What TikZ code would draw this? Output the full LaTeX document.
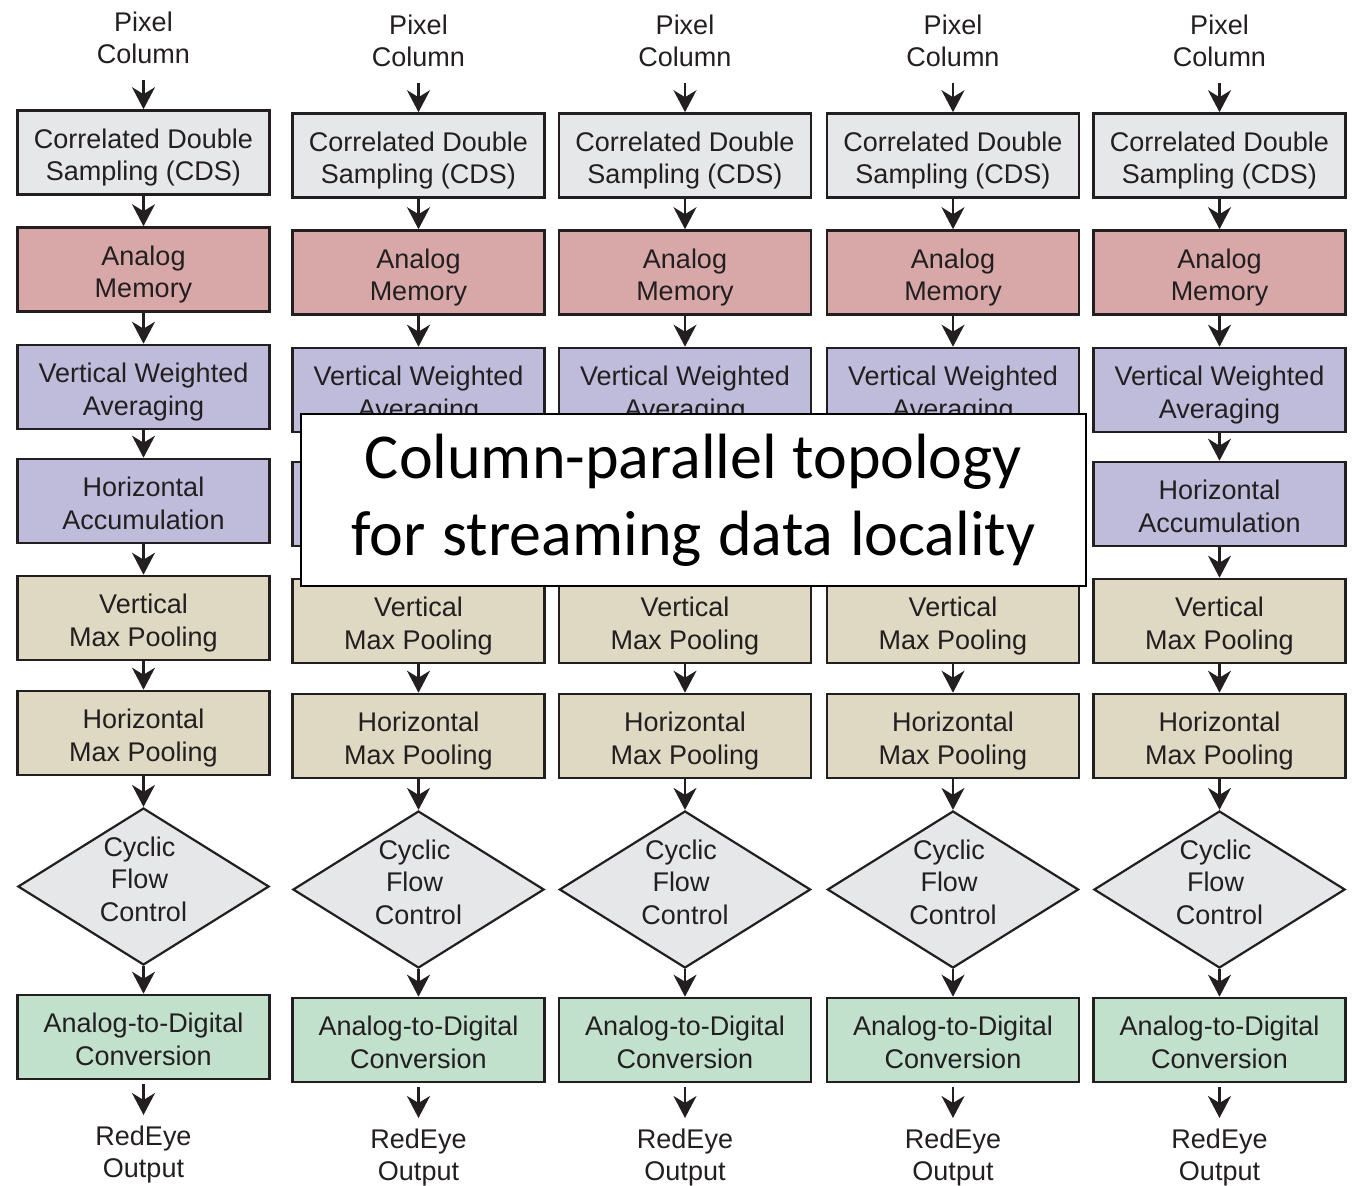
\documentclass[tikz,border=0pt]{standalone}
\usepackage{fontspec}
\setmainfont{Liberation Sans}
\newfontfamily\titlefont{Carlito}
\usetikzlibrary{arrows.meta,shapes.geometric}
\definecolor{ink}{HTML}{231F20}
\definecolor{cdsfill}{HTML}{E6E7E8}
\definecolor{memfill}{HTML}{D8A8A9}
\definecolor{avgfill}{HTML}{BFBCDB}
\definecolor{poolfill}{HTML}{DFD8C2}
\definecolor{adcfill}{HTML}{C1E1CD}
\definecolor{flowfill}{HTML}{E6E7E8}
% invisible struts that fix where the text lines sit inside a box
\newcommand\boxtop{\rule{0pt}{31.5pt}}
\newcommand\boxend{\rule[-8pt]{0pt}{8pt}}
\newcommand\diatop{\rule{0pt}{21pt}}
\newcommand\diaend{\rule[-16.6pt]{0pt}{16.6pt}}
\newcommand\padright{\rule{8pt}{0pt}}

\begin{document}
\begin{tikzpicture}[x=1pt,y=-1pt,
  txt/.style={text=ink, align=center, inner sep=0pt, font=\fontsize{27}{32.5}\selectfont},
  stage/.style={txt, draw=ink, line width=2.6pt, minimum width=252pt, minimum height=84pt},
  flow/.style={txt, draw=ink, line width=2.2pt, shape=diamond, aspect=1.6,
    minimum width=250pt, minimum height=153pt, fill=flowfill},
  feed/.style={draw=ink, line width=2.2pt, -{Stealth[length=22pt,width=23pt,inset=7pt]}},
  banner/.style={draw=black, line width=2pt, fill=white, minimum width=785pt,
    minimum height=172pt, inner sep=0pt, align=center,
    font=\titlefont\fontsize{64}{77}\selectfont}
]
\useasboundingbox (0,0) rectangle (1353,1186);
\fill[white] (0,0) rectangle (1353,1186);

\foreach \cx/\dy/\i/\shown in {143.5/-3/1/1, 418.5/0/2/0, 685/0/3/0, 953/0/4/0, 1219.5/0/5/1}{
  \begin{scope}[shift={(\cx,\dy)}]
    \node[txt] (pix\i) at (0,41) {Pixel\\Column};
    \coordinate (top\i) at (0,83);
    \node[stage, fill=cdsfill] (cds\i) at (0,155.5) {\boxtop Correlated Double\\Sampling (CDS)\boxend};
    \node[stage, fill=memfill] (mem\i) at (0,272.5) {\boxtop Analog\\Memory\boxend};
    \node[stage, fill=avgfill] (vwa\i) at (0,390) {\boxtop Vertical Weighted\\Averaging\boxend};
    \ifnum\shown=1
      \node[stage, fill=avgfill] (hac\i) at (0,504) {\boxtop Horizontal\\Accumulation\boxend};
    \else
      \node[stage, fill=avgfill] (hac\i) at (0,504) {};
    \fi
    \node[stage, fill=poolfill] (vmp\i) at (0,621) {\boxtop Vertical\\Max Pooling\boxend};
    \node[stage, fill=poolfill] (hmp\i) at (0,736) {\boxtop Horizontal\\Max Pooling\boxend};
    \node[flow] (cfc\i) at (0,889.5) {\diatop Cyclic\padright\\Flow\padright\\Control\diaend};
    \node[stage, fill=adcfill] (adc\i) at (0,1040) {\boxtop Analog-to-Digital\\Conversion\boxend};
    \coordinate (bot\i) at (0,1118);
    \node[txt] (out\i) at (0,1157.5) {RedEye\\Output};
  \end{scope}
  \draw[feed] (top\i) -- (cds\i.north);
  \draw[feed] (cds\i.south) -- (mem\i.north);
  \draw[feed] (mem\i.south) -- (vwa\i.north);
  \draw[feed] (vwa\i.south) -- (hac\i.north);
  \draw[feed] (hac\i.south) -- (vmp\i.north);
  \draw[feed] (vmp\i.south) -- (hmp\i.north);
  \draw[feed] (hmp\i.south) -- (cfc\i.north);
  \draw[feed] (cfc\i.south) -- (adc\i.north);
  \draw[feed] ([yshift=-4pt]adc\i.south) -- (bot\i);
}

\node[banner] (note) at (693.5,500) {Column-parallel\hspace{0.24em}topology\\
  for\hspace{0.26em}streaming\hspace{0.26em}data\hspace{0.26em}locality};
\end{tikzpicture}
\end{document}
